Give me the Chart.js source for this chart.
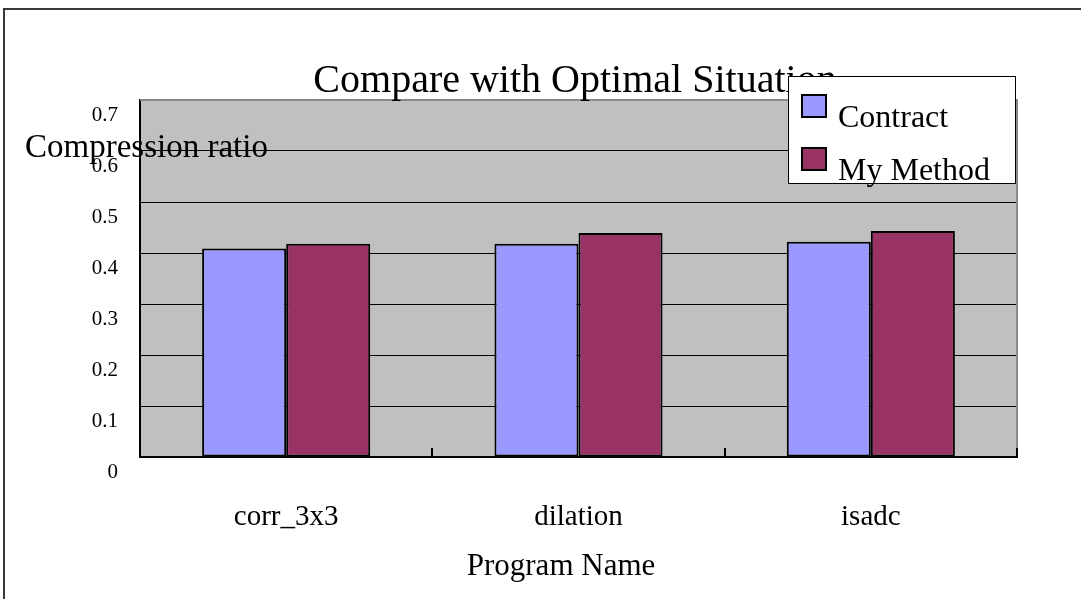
<!DOCTYPE html>
<html>
<head>
<meta charset="utf-8">
<script src="https://cdn.jsdelivr.net/npm/chart.js@4/dist/chart.umd.min.js"></script>
<style>
  html, body { margin: 0; padding: 0; background: #fff; }
  canvas { display: block; }
</style>
</head>
<body>
<canvas id="c" width="1081" height="599"></canvas>
<script>
// Chart data
const categories = ['corr_3x3', 'dilation', 'isadc'];
const seriesNames = ['Contract', 'My Method'];
const contract = [0.409, 0.418, 0.422];
const myMethod = [0.418, 0.439, 0.443];
const yMin = 0, yMax = 0.7, yStep = 0.1;

// Texts
const chartTitle = 'Compare with Optimal Situation';
const yTitle = 'Compression ratio';
const xTitle = 'Program Name';

const FONT = '"Liberation Serif", "Times New Roman", serif';
const seriesColors = ['#9999FF', '#993366'];

Chart.defaults.font.family = FONT;
Chart.defaults.color = '#000';

// Grey plot background, frame, inward ticks, titles and boxed legend
const decor = {
  id: 'decor',
  beforeDraw(chart) {
    const { ctx, chartArea: a } = chart;
    ctx.save();
    ctx.fillStyle = '#fff';
    ctx.fillRect(0, 0, chart.width, chart.height);
    ctx.fillStyle = '#C0C0C0';
    ctx.fillRect(a.left, a.top, a.right - a.left, a.bottom - a.top);
    // outer frame (top and left edges visible)
    ctx.strokeStyle = '#3a3a3a';
    ctx.lineWidth = 2;
    ctx.beginPath();
    ctx.moveTo(4, chart.height + 5);
    ctx.lineTo(4, 9);
    ctx.lineTo(chart.width + 5, 9);
    ctx.stroke();
    ctx.restore();
  },
  afterDraw(chart) {
    const { ctx, chartArea: a } = chart;
    const xs = chart.scales.x;
    ctx.save();
    // plot frame top / right
    ctx.strokeStyle = '#8a8a8a';
    ctx.lineWidth = 2;
    ctx.beginPath();
    ctx.moveTo(a.left, a.top);
    ctx.lineTo(a.right, a.top);
    ctx.lineTo(a.right, a.bottom);
    ctx.stroke();
    // inward tick marks at category boundaries
    ctx.strokeStyle = '#000';
    ctx.lineWidth = 2;
    ctx.beginPath();
    for (let i = 0; i <= categories.length; i++) {
      const x = Math.round(xs.getPixelForValue(i - 0.5));
      ctx.moveTo(x, a.bottom);
      ctx.lineTo(x, a.bottom - 9);
    }
    ctx.stroke();

    ctx.fillStyle = '#000';
    ctx.textBaseline = 'alphabetic';
    // chart title
    ctx.font = '40px ' + FONT;
    ctx.textAlign = 'center';
    ctx.fillText(chartTitle, 575, 92);
    // axis titles
    ctx.font = '33px ' + FONT;
    ctx.textAlign = 'left';
    ctx.fillText(yTitle, 25, 157);
    ctx.font = '31px ' + FONT;
    ctx.textAlign = 'center';
    ctx.fillText(xTitle, 561, 575);

    // legend box
    ctx.fillStyle = '#fff';
    ctx.fillRect(788, 76, 227, 107);
    ctx.strokeStyle = '#000';
    ctx.lineWidth = 1;
    ctx.strokeRect(788.5, 76.5, 227, 107);
    const rows = [95, 148];
    chart.data.datasets.forEach((ds, i) => {
      ctx.fillStyle = ds.backgroundColor;
      ctx.fillRect(802, rows[i], 24, 22);
      ctx.lineWidth = 2;
      ctx.strokeRect(802, rows[i], 24, 22);
      ctx.fillStyle = '#000';
      ctx.font = '32px ' + FONT;
      ctx.textAlign = 'left';
      ctx.fillText(ds.label, 838, rows[i] + 32);
    });
    ctx.restore();
  }
};

new Chart(document.getElementById('c'), {
  type: 'bar',
  data: {
    labels: categories,
    datasets: [
      { label: seriesNames[0], data: contract, backgroundColor: seriesColors[0],
        borderColor: '#000', borderWidth: 2, borderSkipped: false },
      { label: seriesNames[1], data: myMethod, backgroundColor: seriesColors[1],
        borderColor: '#000', borderWidth: 2, borderSkipped: false }
    ]
  },
  options: {
    responsive: false,
    animation: false,
    devicePixelRatio: 1,
    layout: { padding: { left: 80, top: 100, right: 64, bottom: 0 } },
    datasets: { bar: { barPercentage: 1, categoryPercentage: 0.575 } },
    plugins: {
      legend: { display: false },
      title: { display: false },
      tooltip: { enabled: false }
    },
    scales: {
      x: {
        grid: { display: false, drawTicks: false },
        border: { display: true, color: '#000', width: 2 },
        ticks: { font: { size: 29 }, color: '#000', padding: 43, maxRotation: 0 },
        afterFit(s) { s.height = 142; }
      },
      y: {
        min: yMin, max: yMax,
        grid: { color: '#000', lineWidth: 1, drawTicks: false },
        border: { display: true, color: '#000', width: 2 },
        ticks: {
          stepSize: yStep, font: { size: 21 }, color: '#000',
          padding: 22, labelOffset: 15,
          callback: v => String(Number(v.toFixed(1)))
        },
        afterFit(s) { s.width = 60; }
      }
    }
  },
  plugins: [decor]
});
</script>
</body>
</html>
